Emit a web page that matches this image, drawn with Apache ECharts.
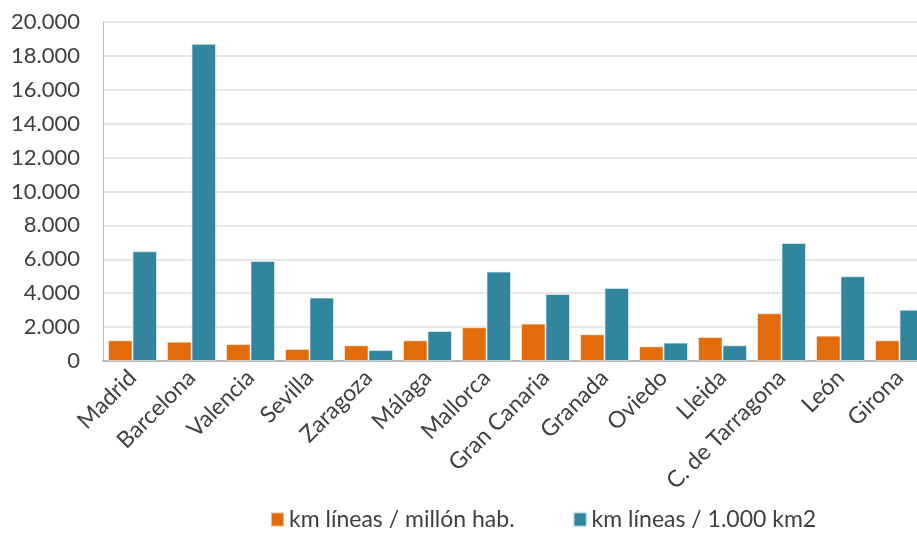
<!DOCTYPE html>
<html>
<head>
<meta charset="utf-8">
<script src="https://cdn.jsdelivr.net/npm/echarts@6/dist/echarts.min.js"></script>
<style>
  html, body { margin: 0; padding: 0; background: #fff; }
  #chart { width: 917px; height: 536px; }
</style>
</head>
<body>
<div id="chart"></div>
<script>
// Provincias / áreas metropolitanas
const categories = ['Madrid', 'Barcelona', 'Valencia', 'Sevilla', 'Zaragoza', 'Málaga', 'Mallorca',
  'Gran Canaria', 'Granada', 'Oviedo', 'Lleida', 'C. de Tarragona', 'León', 'Girona'];

// km de líneas por millón de habitantes
const kmPorMillonHab = [1220, 1140, 1000, 710, 925, 1220, 1990, 2205, 1575, 865, 1415, 2815, 1495, 1220];

// km de líneas por 1.000 km2
const kmPor1000Km2 = [6475, 18710, 5900, 3740, 650, 1770, 5275, 3955, 4310, 1085, 925, 6965, 5000, 3030];

const seriesNames = ['km líneas / millón hab.', 'km líneas / 1.000 km2'];

const FONT = 'Lato';
const TEXT = '#404040';

const fmt = v => String(v).replace(/\B(?=(\d{3})+(?!\d))/g, '.');

const chart = echarts.init(document.getElementById('chart'));
chart.setOption({
  animation: false,
  backgroundColor: '#ffffff',
  grid: { left: 103, right: -12, top: 22, bottom: 175, outerBoundsMode: 'none', containLabel: false },
  legend: {
    left: 270,
    top: 508,
    padding: 0,
    itemWidth: 13,
    itemHeight: 14,
    itemGap: 58,
    icon: 'rect',
    textStyle: { fontFamily: FONT, fontSize: 23, color: TEXT },
    data: seriesNames
  },
  xAxis: {
    type: 'category',
    data: categories,
    axisLine: { show: true, lineStyle: { color: '#a6a6a6', width: 1.5 } },
    axisTick: { show: false },
    axisLabel: {
      interval: 0,
      rotate: 45,
      margin: 13,
      fontFamily: FONT,
      fontSize: 23,
      color: TEXT
    }
  },
  yAxis: {
    type: 'value',
    min: 0,
    max: 20000,
    interval: 2000,
    axisLine: { show: true, lineStyle: { color: '#bfbfbf', width: 1 } },
    axisTick: { show: false },
    splitLine: { lineStyle: { color: '#e0e0e0', width: 1.5 } },
    axisLabel: {
      margin: 23,
      fontFamily: FONT,
      fontSize: 22,
      color: TEXT,
      formatter: fmt
    }
  },
  series: [
    {
      name: seriesNames[0],
      type: 'bar',
      data: kmPorMillonHab,
      barGap: '0%',
      barCategoryGap: '17%',
      itemStyle: { color: '#e36c0a', borderColor: 'rgba(255,255,255,0.5)', borderWidth: 1 }
    },
    {
      name: seriesNames[1],
      type: 'bar',
      data: kmPor1000Km2,
      barGap: '0%',
      barCategoryGap: '17%',
      itemStyle: { color: '#31859c', borderColor: 'rgba(220,240,245,0.7)', borderWidth: 1 }
    }
  ]
});
</script>
</body>
</html>
